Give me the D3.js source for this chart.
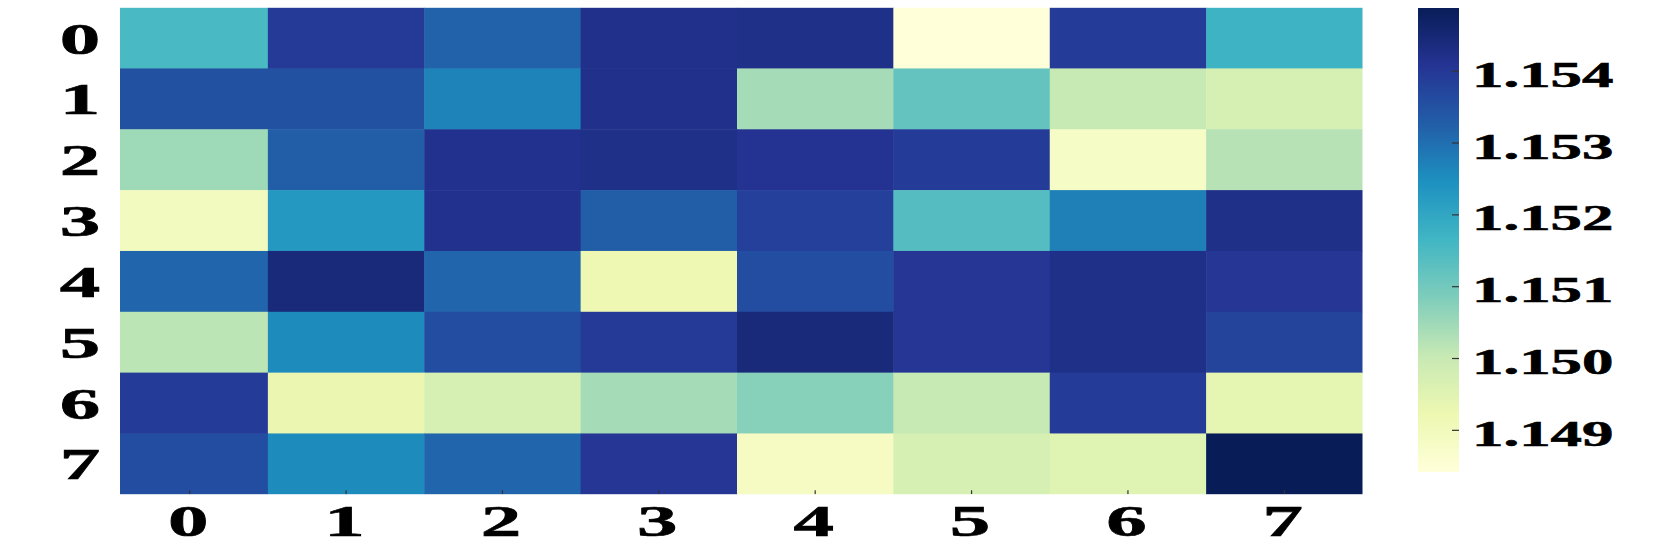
<!DOCTYPE html>
<html>
<head>
<meta charset="utf-8">
<script src="https://cdn.jsdelivr.net/npm/d3@7"></script>
<style>
  html, body { margin: 0; padding: 0; background: #fff; }
  svg { display: block; }
  .lbl { font-family: "Liberation Serif", "Times New Roman", serif; font-weight: bold; fill: #000; stroke: #000; stroke-width: 0.6px; }
</style>
</head>
<body>
<div id="chart"></div>
<script>
// heatmap values, one array per row
const xLabels = ['0', '1', '2', '3', '4', '5', '6', '7'];
const yLabels = ['0', '1', '2', '3', '4', '5', '6', '7'];

const row0 = [1.15155, 1.15398, 1.15320, 1.15420, 1.15423, 1.14842, 1.15391, 1.15171];
const row1 = [1.15352, 1.15352, 1.15268, 1.15420, 1.15042, 1.15120, 1.15004, 1.14971];
const row2 = [1.15049, 1.15327, 1.15417, 1.15423, 1.15410, 1.15391, 1.14881, 1.15023];
const row3 = [1.14894, 1.15230, 1.15417, 1.15327, 1.15385, 1.15139, 1.15275, 1.15423];
const row4 = [1.15314, 1.15443, 1.15314, 1.14920, 1.15359, 1.15404, 1.15423, 1.15404];
const row5 = [1.15016, 1.15255, 1.15359, 1.15398, 1.15443, 1.15404, 1.15423, 1.15378];
const row6 = [1.15391, 1.14926, 1.14971, 1.15042, 1.15075, 1.15004, 1.15391, 1.14939];
const row7 = [1.15359, 1.15255, 1.15314, 1.15404, 1.14887, 1.14971, 1.14952, 1.15488];

const colorbarTicks = [1.149, 1.150, 1.151, 1.152, 1.153, 1.154];

const rows = [row0, row1, row2, row3, row4, row5, row6, row7];
const cells = rows.flatMap((r, i) => r.map((v, j) => ({ row: i, col: j, value: v })));

const width = 1661, height = 545;
const stretch = 1.8; // labels in the picture are drawn wide

const svg = d3.select('#chart').append('svg')
  .attr('width', width)
  .attr('height', height);

const x = d3.scaleBand().domain(d3.range(xLabels.length)).range([111.5, 1362.5]);
const y = d3.scaleBand().domain(d3.range(yLabels.length)).range([7.6, 494.3]);

const [vMin, vMax] = d3.extent(cells, d => d.value);
const stops = d3.schemeYlGnBu[9];
const color = d3.scaleLinear()
  .domain(stops.map((c, i) => vMin + (vMax - vMin) * i / (stops.length - 1)))
  .range(stops)
  .interpolate(d3.interpolateRgb);

// the left edge of the first column is cut off in the picture
svg.append('clipPath').attr('id', 'hm-clip')
  .append('rect')
    .attr('x', 120).attr('y', y.range()[0])
    .attr('width', x.range()[1] - 120)
    .attr('height', y.range()[1] - y.range()[0]);

const heat = svg.append('g').attr('clip-path', 'url(#hm-clip)');

heat.selectAll('rect.cell')
  .data(cells)
  .join('rect')
    .attr('class', 'cell')
    .attr('x', d => x(d.col))
    .attr('y', d => y(d.row))
    .attr('width', x.bandwidth() + 0.5)
    .attr('height', y.bandwidth() + 0.5)
    .attr('fill', d => color(d.value));

// small inward ticks along the bottom
heat.selectAll('line.xtick')
  .data(d3.range(xLabels.length))
  .join('line')
    .attr('class', 'xtick')
    .attr('x1', d => x(d) + x.bandwidth() / 2)
    .attr('x2', d => x(d) + x.bandwidth() / 2)
    .attr('y1', y.range()[1] - 4)
    .attr('y2', y.range()[1])
    .attr('stroke', '#333')
    .attr('stroke-width', 1.2);

const label = (sel, fontSize, anchor) => sel
  .append('text')
    .attr('class', 'lbl')
    .attr('text-anchor', anchor)
    .style('font-size', fontSize + 'px');

// x labels
svg.selectAll('g.xlab')
  .data(xLabels)
  .join('g')
    .attr('class', 'xlab')
    .attr('transform', (d, i) => `translate(${x(i) + x.bandwidth() / 2 - 1.5},536) scale(${stretch},1)`)
  .call(g => label(g, 45, 'middle').text(d => d));

// y labels
svg.selectAll('g.ylab')
  .data(yLabels)
  .join('g')
    .attr('class', 'ylab')
    .attr('transform', (d, i) => `translate(80,${y(i) + y.bandwidth() / 2 + 15.5}) scale(${stretch},1)`)
  .call(g => label(g, 45, 'middle').text(d => d));

// colorbar
const cb = { x: 1418, y: 8, w: 41, h: 464 };
const cbScale = d3.scaleLinear().domain([vMin, vMax]).range([cb.y + cb.h, cb.y]);

const grad = svg.append('defs').append('linearGradient')
  .attr('id', 'cb-grad')
  .attr('x1', 0).attr('y1', 1).attr('x2', 0).attr('y2', 0);

grad.selectAll('stop')
  .data(stops)
  .join('stop')
    .attr('offset', (d, i) => i / (stops.length - 1))
    .attr('stop-color', d => d);

svg.append('rect')
  .attr('x', cb.x).attr('y', cb.y)
  .attr('width', cb.w).attr('height', cb.h)
  .attr('fill', 'url(#cb-grad)');

svg.selectAll('line.cbtick')
  .data(colorbarTicks)
  .join('line')
    .attr('class', 'cbtick')
    .attr('x1', cb.x + cb.w - 7)
    .attr('x2', cb.x + cb.w)
    .attr('y1', d => cbScale(d))
    .attr('y2', d => cbScale(d))
    .attr('stroke', '#333')
    .attr('stroke-width', 1.2);

svg.selectAll('g.cblab')
  .data(colorbarTicks)
  .join('g')
    .attr('class', 'cblab')
    .attr('transform', d => `translate(1472,${cbScale(d) + 15.5}) scale(${stretch * 0.97},1)`)
  .call(g => label(g, 36, 'start').text(d => d3.format('.3f')(d)));
</script>
</body>
</html>
